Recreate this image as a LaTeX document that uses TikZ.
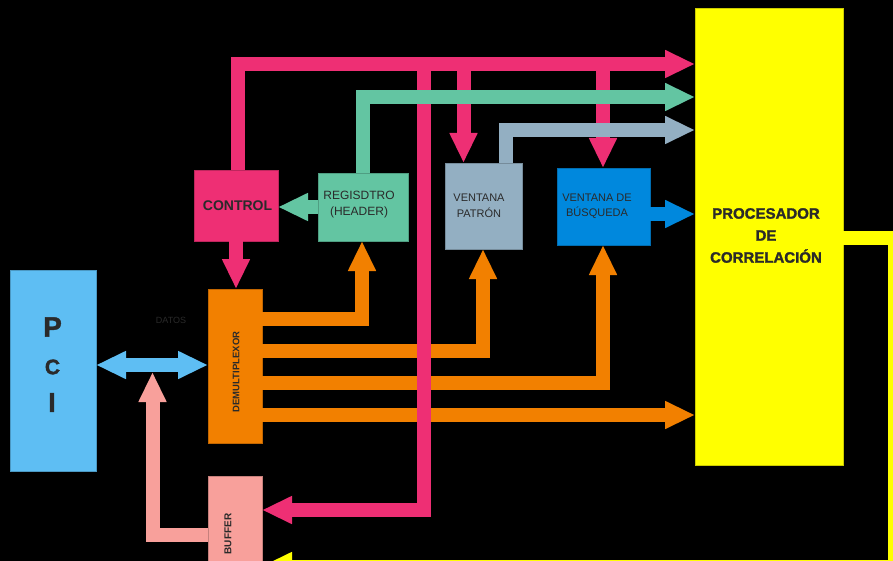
\documentclass[tikz,border=0pt]{standalone}
\usepackage{fontspec}
\setmainfont{Liberation Sans}
\setsansfont{Liberation Sans}
\newfontfamily\heavyfont{Liberation Sans Bold}[FakeBold=1.6]
\usetikzlibrary{arrows.meta}

\definecolor{pcicol}{HTML}{5EBEF3}
\definecolor{pinkcol}{HTML}{EE2F74}
\definecolor{greencol}{HTML}{63C5A2}
\definecolor{graycol}{HTML}{93AFC2}
\definecolor{bluecol}{HTML}{0088DD}
\definecolor{orangecol}{HTML}{F28000}
\definecolor{salmoncol}{HTML}{F8A09B}
\definecolor{yellowcol}{HTML}{FFFF00}
\definecolor{labelcol}{HTML}{2A2A2A}

\begin{document}
\begin{tikzpicture}[x=1pt,y=-1pt,
  >={Triangle[width=26pt,length=30pt]},
  block/.style={draw=#1!80!black, line width=0.6pt, fill=#1,
    inner sep=0pt, outer sep=0pt},
  lbl/.style={text=labelcol, inner sep=0pt, align=center},
  bus/.style={draw=#1, line width=14pt, line join=miter, line cap=butt, ->},
]
% background and page size
\fill[black] (0,0) rectangle (893,561);
\useasboundingbox (0,0) rectangle (893,561);

% blocks
\node[block=pcicol, minimum width=86pt, minimum height=201pt] (pci) at (53,370.5) {};
\node[block=orangecol, minimum width=54pt, minimum height=154pt] (demux) at (235,366) {};
\node[block=salmoncol, minimum width=54pt, minimum height=100pt] (buffer) at (235,526) {};
\node[block=pinkcol, minimum width=84pt, minimum height=71pt] (control) at (236,205.5) {};
\node[block=greencol, minimum width=90pt, minimum height=68pt] (registro) at (363,207) {};
\node[block=graycol, minimum width=77pt, minimum height=86pt] (vpatron) at (483.5,206) {};
\node[block=bluecol, minimum width=93pt, minimum height=77pt] (vbusq) at (603.5,206.5) {};
\node[block=yellowcol, minimum width=148pt, minimum height=457pt] (proc) at (769,236.5) {};

% labels
\node[lbl, font=\heavyfont\fontsize{28}{28}\selectfont] (pciP) at (52.5,327) {P};
\node[lbl, font=\heavyfont\fontsize{21}{21}\selectfont] (pciC) at (52.5,367) {C};
\node[lbl, font=\heavyfont\fontsize{27}{27}\selectfont] (pciI) at (52,402.5) {I};
\node[lbl, font=\fontsize{9}{9}\selectfont] (datos) at (171,320.5) {DATOS};
\node[lbl, rotate=90, font=\bfseries\fontsize{9.5}{9.5}\selectfont] (demuxTxt) at (236,372) {DEMULTIPLEXOR};
\node[lbl, rotate=90, font=\bfseries\fontsize{10}{10}\selectfont] (bufferTxt) at (228,534) {BUFFER};
\node[lbl, font=\bfseries\fontsize{14}{14}\selectfont] (controlTxt) at (237.5,205.5) {CONTROL};
\node[lbl, font=\fontsize{12}{16}\selectfont] (registroTxt) at (359,205) {REGISDTRO\\(HEADER)};
\node[lbl, font=\fontsize{11}{16}\selectfont] (vpatronTxt) at (479,206) {VENTANA\\PATRÓN};
\node[lbl, font=\fontsize{11}{15}\selectfont] (vbusqTxt) at (597,206) {VENTANA DE\\BÚSQUEDA};
\node[lbl, font=\heavyfont\fontsize{15}{22}\selectfont] (procTxt) at (766,235.5) {PROCESADOR\\DE\\CORRELACIÓN};

% bend points
\coordinate (datajoin) at (152.5,372);
\coordinate (busTop) at (424,57);
\coordinate (yelA) at (894,238);
\coordinate (yelB) at (894,566);

% demultiplexer outputs
\draw[bus=orangecol] (demux.east |- 0,319) -- (362,319) -- (registro.south -| 362,0);
\draw[bus=orangecol] (demux.east |- 0,351) -- (483,351) -- (vpatron.south -| 483,0);
\draw[bus=orangecol] (demux.east |- 0,382.5) -- (603,382.5) -- (vbusq.south -| 603,0);
\draw[bus=orangecol] (demux.east |- 0,415) -- (proc.west |- 0,415);

% control bus
\draw[bus=pinkcol] (control.north -| 237.5,0) -- (237.5,64) -- (proc.west |- 0,64);
\draw[bus=pinkcol] (busTop) -- (424,510) -- (buffer.east |- 0,510);
\draw[bus=pinkcol] (463.5,57) -- (vpatron.north -| 463.5,0);
\draw[bus=pinkcol] (603,57) -- (vbusq.north -| 603,0);
\draw[bus=pinkcol] (control.south -| 236,0) -- (demux.north -| 236,0);

% results to the correlator
\draw[bus=greencol] (registro.north -| 362.5,0) -- (362.5,97) -- (proc.west |- 0,97);
\draw[bus=graycol] (vpatron.north -| 506,0) -- (506,130) -- (proc.west |- 0,130);
\draw[bus=bluecol] (vbusq.east |- 0,214) -- (proc.west |- 0,214);
\draw[bus=greencol] (registro.west |- 0,207) -- (control.east |- 0,207);

% data path
\draw[bus=salmoncol] (buffer.west |- 0,535) -- (152.5,535) -- (datajoin);
\draw[bus=pcicol, <->] (pci.east |- 0,365) -- (demux.west |- 0,365);

% feedback from the correlator
\draw[bus=yellowcol, line width=13pt] (proc.east |- 0,238) -- (yelA) -- (yelB) -- (buffer.east |- 0,566);
\end{tikzpicture}
\end{document}
